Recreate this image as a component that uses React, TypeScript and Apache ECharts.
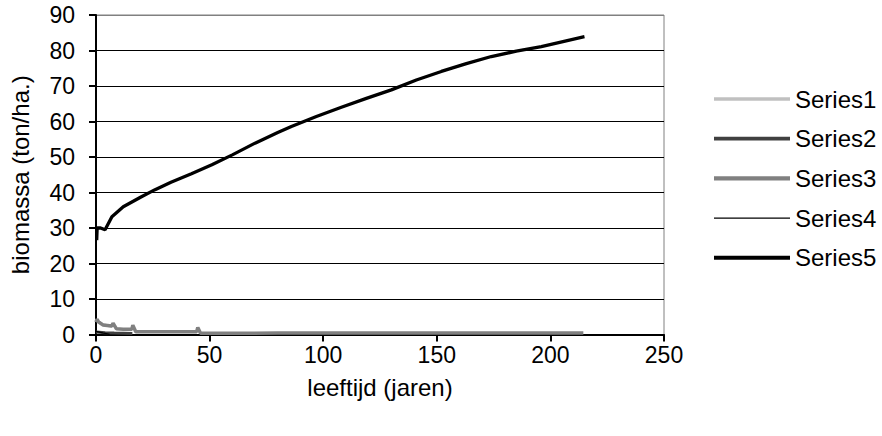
import React, { useEffect, useRef } from "react";
import * as echarts from "echarts";

const seriesNames = ["Series1", "Series2", "Series3", "Series4", "Series5"];

const s1Age = [0, 0.5, 1.5, 3, 5, 7];
const s1Val = [3.6, 4.2, 3.4, 2.8, 2.5, 2.3];

const s2Age = [0, 4, 8, 12, 16];
const s2Val = [0.7, 0.5, 0.4, 0.35, 0.3];

const s3Age = [0, 0.5, 1, 3, 7, 7.5, 9, 12, 15.8, 16.2, 17.5, 25, 35, 44.3, 44.8, 46, 80, 120, 160, 214.5];
const s3Val = [3.5, 4.3, 3.6, 2.7, 2.4, 3.2, 1.6, 1.5, 1.5, 2.6, 0.8, 0.8, 0.8, 0.8, 2.0, 0.35, 0.4, 0.4, 0.4, 0.4];

const s4Age = [0, 0.5, 3, 6];
const s4Val = [0.8, 0.8, 0.45, 0.05];

const s5Age = [0.3, 0.5, 2, 4, 7, 12, 20, 26, 33, 42, 51, 60, 70, 80, 86, 97, 108, 119, 130, 141, 152, 163, 174, 185, 196, 206, 215];
const s5Val = [26.6, 30, 30, 29.5, 33.2, 36, 38.8, 40.8, 42.9, 45.3, 47.8, 50.6, 53.9, 56.9, 58.6, 61.4, 64, 66.5, 68.9, 71.7, 74.1, 76.3, 78.3, 79.8, 81.1, 82.6, 83.9];

const xTicks = { min: 0, max: 250, interval: 50 };
const yTicks = { min: 0, max: 90, interval: 10 };

const zip = (a: number[], b: number[]) => a.map((x, i) => [x, b[i]]);

export default function App() {
  const ref = useRef<HTMLDivElement>(null);
  useEffect(() => {
    if (!ref.current) return;
    const chart = echarts.init(ref.current, null, { renderer: "svg" });
    const font = "'Liberation Sans', Arial, sans-serif";
    const styles = [
      { color: "#c0c0c0", width: 3 },
      { color: "#404040", width: 3 },
      { color: "#808080", width: 3.5 },
      { color: "#000000", width: 1.3 },
      { color: "#000000", width: 3.3 },
    ];
    const datas = [
      zip(s1Age, s1Val),
      zip(s2Age, s2Val),
      zip(s3Age, s3Val),
      zip(s4Age, s4Val),
      zip(s5Age, s5Val),
    ];
    const legendTop = 99;
    const legendStep = 39.7;
    const legendGraphics: any[] = [];
    seriesNames.forEach((name, i) => {
      const y = legendTop + i * legendStep;
      legendGraphics.push({
        type: "line",
        shape: { x1: 714, y1: y, x2: 790, y2: y },
        style: { stroke: styles[i].color, lineWidth: styles[i].width + (i === 3 ? 0 : 0.7) },
      });
      legendGraphics.push({
        type: "text",
        x: 795,
        y,
        style: {
          text: name,
          fontFamily: font,
          fontSize: 24,
          fill: "#000",
          verticalAlign: "middle",
          align: "left",
        },
      });
    });
    chart.setOption({
      animation: false,
      grid: {
        left: 94,
        top: 15,
        width: 570,
        height: 319.5,
        show: true,
        borderColor: "#808080",
        borderWidth: 1,
        backgroundColor: "transparent",
      },
      graphic: legendGraphics,
      xAxis: {
        type: "value",
        min: xTicks.min,
        max: xTicks.max,
        interval: xTicks.interval,
        name: "leeftijd (jaren)",
        nameLocation: "middle",
        nameGap: 41,
        nameTextStyle: { fontFamily: font, fontSize: 24, color: "#000" },
        axisLine: { show: true, lineStyle: { color: "#000", width: 2 } },
        axisTick: { show: true, length: 7, lineStyle: { color: "#000", width: 2 } },
        axisLabel: { fontFamily: font, fontSize: 23, color: "#000", margin: 9 },
        splitLine: { show: false },
      },
      yAxis: {
        type: "value",
        min: yTicks.min,
        max: yTicks.max,
        interval: yTicks.interval,
        name: "biomassa (ton/ha.)",
        nameLocation: "middle",
        nameGap: 64,
        nameTextStyle: { fontFamily: font, fontSize: 24, color: "#000" },
        axisLine: { show: true, lineStyle: { color: "#000", width: 2 } },
        axisTick: { show: true, length: 7, lineStyle: { color: "#000", width: 2 } },
        axisLabel: { fontFamily: font, fontSize: 23, color: "#000", margin: 21 },
        splitLine: {
          show: true,
          lineStyle: {
            color: ["#000", "#000", "#000", "#000", "#000", "#000", "#000", "#000", "#000", "#808080"],
            width: 1,
          },
        },
      },
      series: seriesNames.map((name, i) => ({
        name,
        type: "line",
        data: datas[i],
        symbol: "none",
        showSymbol: false,
        z: i === 4 ? 5 : 3 + i * 0.1,
        lineStyle: { color: styles[i].color, width: styles[i].width },
        itemStyle: { color: styles[i].color },
      })),
    });
    return () => chart.dispose();
  }, []);
  return <div ref={ref} style={{ width: 882, height: 436, position: "absolute", left: 0, top: 0 }} />;
}
